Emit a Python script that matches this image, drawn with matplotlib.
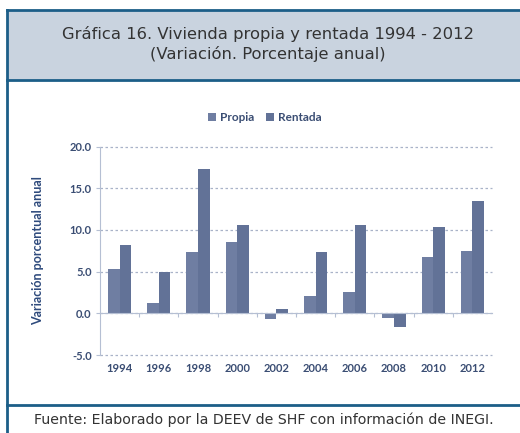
import numpy as np
import matplotlib
matplotlib.use('Agg')
import matplotlib.pyplot as plt
from matplotlib.patches import Rectangle
from matplotlib.lines import Line2D

years = ['1994', '1996', '1998', '2000', '2002', '2004', '2006', '2008', '2010', '2012']
propia = [5.3, 1.2, 7.4, 8.5, -0.7, 2.1, 2.5, -0.6, 6.8, 7.5]
rentada = [8.2, 5.0, 17.3, 10.6, 0.5, 7.4, 10.6, -1.6, 10.3, 13.5]
yticks = [-5.0, 0.0, 5.0, 10.0, 15.0, 20.0]

W, H = 520, 433
edge = '#1c5e88'
txt = '#3a4d73'
c_propia = '#6f7ea2'
c_rentada = '#627297'

fig = plt.figure(figsize=(W / 100, H / 100), dpi=100)
fig.patch.set_facecolor('white')

# marco y banda del titulo
fig.patches.append(Rectangle((8 / W, 1 - 80 / H), 1, 70 / H, transform=fig.transFigure,
                             facecolor='#c9d3df', edgecolor='none', zorder=0))
for y in (10, 80, 405):
    fig.lines.append(Line2D([7 / W, 1], [1 - y / H, 1 - y / H], transform=fig.transFigure,
                            color=edge, lw=2.0))
fig.lines.append(Line2D([7 / W, 7 / W], [0, 1 - 10 / H], transform=fig.transFigure,
                        color=edge, lw=2.0))

fig.text(0.515, 1 - 34 / H, 'Gráfica 16. Vivienda propia y rentada 1994 - 2012',
         ha='center', va='center', fontsize=11.8, color='#333333', family='DejaVu Sans')
fig.text(0.515, 1 - 54 / H, '(Variación. Porcentaje anual)',
         ha='center', va='center', fontsize=11.8, color='#333333', family='DejaVu Sans')
fig.text(0.508, 1 - 420 / H, 'Fuente: Elaborado por la DEEV de SHF con información de INEGI.',
         ha='center', va='center', fontsize=10.2, color='#333333', family='DejaVu Sans')

ax = fig.add_axes([100 / W, 1 - 355 / H, 392 / W, 208.5 / H])
x = np.arange(len(years))
w = 0.295
ax.bar(x - w / 2, propia, w, color=c_propia, label='Propia', zorder=3)
ax.bar(x + w / 2, rentada, w, color=c_rentada, label='Rentada', zorder=3)

ax.set_xlim(-0.5, len(years) - 0.5)
ax.set_ylim(-5, 20)
ax.set_yticks(yticks)
ax.set_yticklabels(['%.1f' % v for v in yticks], fontsize=8, color=txt, fontweight='bold',
                   family='Lato')
ax.yaxis.grid(True, linestyle=(0, (2, 2)), color='#a9b3c8', lw=0.9, zorder=0)
for gl in ax.get_ygridlines():
    gl.set_clip_on(False)
ax.tick_params(axis='y', length=3, color='#b5bfd3', pad=3)

for s in ('top', 'right'):
    ax.spines[s].set_visible(False)
ax.spines['left'].set_color('#b5bfd3')
ax.spines['bottom'].set_position(('data', 0))
ax.spines['bottom'].set_color('#b5bfd3')
ax.spines['bottom'].set_zorder(4)
ax.set_xticks(x[:-1] + 0.5)
ax.set_xticklabels([])
ax.tick_params(axis='x', length=3, color='#b5bfd3', direction='out')

sec = ax.secondary_xaxis('bottom')
sec.set_xticks(x)
sec.set_xticklabels(years, fontsize=8, color=txt, fontweight='bold', family='Lato')
sec.tick_params(length=0, pad=6)
sec.spines['bottom'].set_visible(False)

ax.set_ylabel('Variación porcentual anual', fontsize=9, color='#2e4a7c',
              fontweight='bold', family='Lato', labelpad=18)

leg = ax.legend(loc='lower center', bbox_to_anchor=(0.42, 1.06), ncol=2, frameon=False,
                handlelength=0.7, handleheight=0.7, handletextpad=0.3,
                columnspacing=1.0, prop={'family': 'Lato', 'weight': 'bold', 'size': 8.5})
for t in leg.get_texts():
    t.set_color(txt)

fig.savefig('out.png', dpi=100)
